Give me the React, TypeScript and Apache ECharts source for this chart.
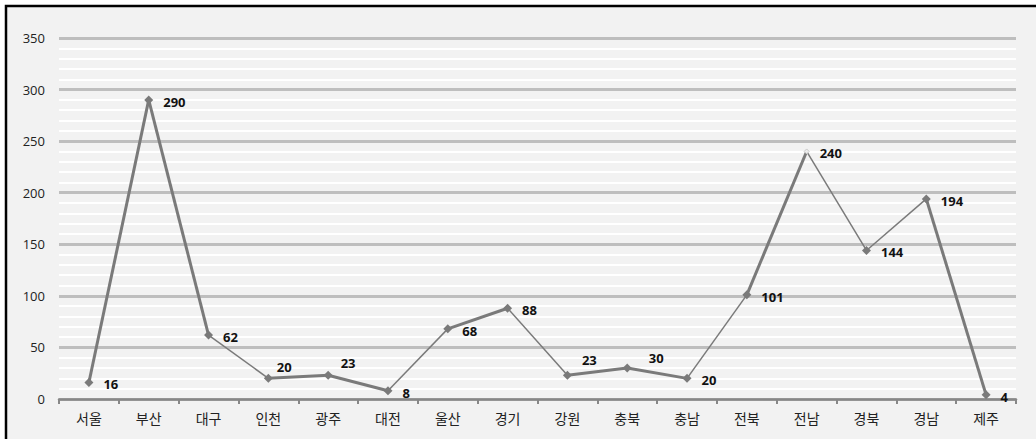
import React, { useEffect, useRef } from "react";
import * as echarts from "echarts";

const categories = ["서울", "부산", "대구", "인천", "광주", "대전", "울산", "경기", "강원", "충북", "충남", "전북", "전남", "경북", "경남", "제주"];
const values = [16, 290, 62, 20, 23, 8, 68, 88, 23, 30, 20, 101, 240, 144, 194, 4];
const yTicks = [0, 50, 100, 150, 200, 250, 300, 350];
// line width per segment (style)
const segmentWidths = [3, 3, 1.5, 3, 3, 1.5, 3, 1.5, 3, 3, 1.5, 3, 1.5, 1.5, 3];
// label offsets for a few points that sit above-right (style)
const labelOffsets: Record<string, number[]> = {
  인천: [-6, -11],
  광주: [-2, -12],
  강원: [0, -15],
  충북: [7, -10],
};

export default function App() {
  const ref = useRef<HTMLDivElement>(null);
  useEffect(() => {
    if (!ref.current) return;
    const chart = echarts.init(ref.current, null, { renderer: "svg" });
    const lineColor = "#7a7a7a";
    const segSeries = segmentWidths.map((w, i) => ({
      type: "line",
      data: values.map((v, j) => (j === i || j === i + 1 ? v : null)),
      showSymbol: false,
      symbol: "none",
      connectNulls: false,
      lineStyle: { color: lineColor, width: w },
      z: 2,
      silent: true,
    }));
    const pointData = values.map((v, i) => {
      const cat = categories[i];
      const item: any = { value: v };
      if (cat === "전남") {
        item.symbolSize = 5;
        item.itemStyle = { color: "#ececec", borderColor: "#c8c8c8", borderWidth: 1 };
      }
      if (labelOffsets[cat]) {
        item.label = { offset: labelOffsets[cat] };
      }
      return item;
    });
    chart.setOption({
      animation: false,
      backgroundColor: "#ffffff",
      graphic: [
        {
          type: "rect",
          z: -10,
          shape: { x: 6, y: 6, width: 1040, height: 440 },
          style: { fill: "#f2f2f2", stroke: "#000000", lineWidth: 2.5 },
        },
      ],
      grid: { left: 59, right: 20, top: 38, bottom: 40 },
      xAxis: {
        type: "category",
        data: categories,
        boundaryGap: true,
        axisLine: { lineStyle: { color: "#878787", width: 2.5 } },
        axisTick: { show: true, interval: 0, length: 5, lineStyle: { color: "#878787", width: 2 } },
        axisLabel: { interval: 0, margin: 12, fontSize: 14, color: "#222", fontFamily: "Noto Sans CJK KR" },
        splitLine: { show: false },
      },
      yAxis: {
        type: "value",
        min: yTicks[0],
        max: yTicks[yTicks.length - 1],
        interval: 50,
        axisLine: { show: false },
        axisTick: { show: false },
        axisLabel: { fontSize: 13, color: "#222", margin: 14, fontFamily: "Open Sans" },
        splitLine: { lineStyle: { color: "#bebebe", width: 3 } },
        minorTick: { show: false, splitNumber: 5 },
        minorSplitLine: { show: true, lineStyle: { color: "#ffffff", width: 2 } },
      },
      series: [
        ...segSeries,
        {
          type: "line",
          data: pointData,
          symbol: "diamond",
          symbolSize: 9,
          showSymbol: true,
          lineStyle: { width: 0, opacity: 0 },
          itemStyle: { color: lineColor },
          z: 3,
          label: {
            show: true,
            position: "right",
            distance: 10,
            offset: [0, 2],
            fontSize: 13,
            fontWeight: "bold",
            color: "#111",
            fontFamily: "Open Sans",
          },
        },
      ],
    });
    return () => chart.dispose();
  }, []);
  return <div ref={ref} style={{ position: "absolute", left: 0, top: 0, width: 1036, height: 439 }} />;
}
